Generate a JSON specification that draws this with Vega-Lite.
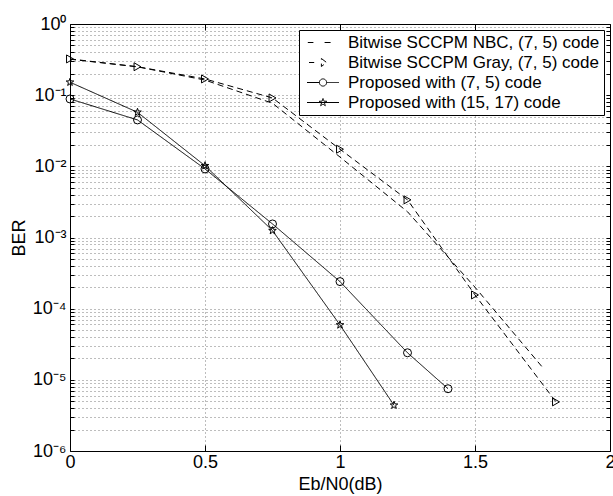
{
  "$schema": "https://vega.github.io/schema/vega-lite/v6.json",
  "width": 540,
  "height": 427,
  "autosize": "none",
  "padding": {"left": 70, "top": 24, "right": 3, "bottom": 45},
  "background": "white",
  "config": {
    "font": "Liberation Sans",
    "view": {"stroke": null},
    "axis": {
      "domainColor": "black",
      "tickColor": "black",
      "labelColor": "black",
      "titleColor": "black",
      "labelFontSize": 18,
      "titleFontSize": 18,
      "titleFontWeight": "normal",
      "gridColor": "#7a7a7a",
      "gridDash": [1, 3],
      "gridWidth": 1
    }
  },
  "data": {
    "values": [
      {"series": "Bitwise SCCPM NBC, (7, 5) code", "x": 0, "y": 0.32},
      {"series": "Bitwise SCCPM NBC, (7, 5) code", "x": 0.25, "y": 0.25},
      {"series": "Bitwise SCCPM NBC, (7, 5) code", "x": 0.5, "y": 0.163},
      {"series": "Bitwise SCCPM NBC, (7, 5) code", "x": 0.75, "y": 0.077},
      {"series": "Bitwise SCCPM NBC, (7, 5) code", "x": 1, "y": 0.0135},
      {"series": "Bitwise SCCPM NBC, (7, 5) code", "x": 1.25, "y": 0.0023},
      {"series": "Bitwise SCCPM NBC, (7, 5) code", "x": 1.5, "y": 0.0002},
      {"series": "Bitwise SCCPM NBC, (7, 5) code", "x": 1.75, "y": 0.000015},
      {"series": "Bitwise SCCPM Gray, (7, 5) code", "x": 0, "y": 0.323},
      {"series": "Bitwise SCCPM Gray, (7, 5) code", "x": 0.25, "y": 0.251},
      {"series": "Bitwise SCCPM Gray, (7, 5) code", "x": 0.5, "y": 0.169},
      {"series": "Bitwise SCCPM Gray, (7, 5) code", "x": 0.75, "y": 0.0914},
      {"series": "Bitwise SCCPM Gray, (7, 5) code", "x": 1, "y": 0.0174},
      {"series": "Bitwise SCCPM Gray, (7, 5) code", "x": 1.25, "y": 0.00338},
      {"series": "Bitwise SCCPM Gray, (7, 5) code", "x": 1.5, "y": 0.000156},
      {"series": "Bitwise SCCPM Gray, (7, 5) code", "x": 1.8, "y": 0.0000049},
      {"series": "Proposed with (7, 5) code", "x": 0, "y": 0.0885},
      {"series": "Proposed with (7, 5) code", "x": 0.25, "y": 0.0449},
      {"series": "Proposed with (7, 5) code", "x": 0.5, "y": 0.0092},
      {"series": "Proposed with (7, 5) code", "x": 0.75, "y": 0.00155},
      {"series": "Proposed with (7, 5) code", "x": 1, "y": 0.00024},
      {"series": "Proposed with (7, 5) code", "x": 1.25, "y": 0.000024},
      {"series": "Proposed with (7, 5) code", "x": 1.4, "y": 0.0000075},
      {"series": "Proposed with (15, 17) code", "x": 0, "y": 0.152},
      {"series": "Proposed with (15, 17) code", "x": 0.25, "y": 0.0575},
      {"series": "Proposed with (15, 17) code", "x": 0.5, "y": 0.0102},
      {"series": "Proposed with (15, 17) code", "x": 0.75, "y": 0.00125},
      {"series": "Proposed with (15, 17) code", "x": 1, "y": 0.000059},
      {"series": "Proposed with (15, 17) code", "x": 1.2, "y": 0.0000044}
    ]
  },
  "layer": [
    {
      "mark": {"type": "line", "strokeWidth": 1, "color": "black"},
      "encoding": {
        "x": {
          "field": "x", "type": "quantitative",
          "scale": {"domain": [0, 2], "nice": false, "zero": false},
          "axis": {
            "orient": "bottom",
            "values": [0, 0.5, 1, 1.5, 2],
            "format": "~g",
            "title": "Eb/N0(dB)",
            "grid": true,
            "gridOpacity": {"condition": {"test": "datum.value <= 0 || datum.value >= 2", "value": 0}, "value": 1},
            "tickSize": -6,
            "labelPadding": 8,
            "titlePadding": 4,
            "labelFlush": false,
            "labelOverlap": false
          }
        },
        "y": {
          "field": "y", "type": "quantitative",
          "scale": {"type": "log", "domain": [0.000001, 1], "nice": false},
          "axis": {
            "orient": "left",
            "values": [0.000001,0.000002,0.000003,0.000004,0.000005,0.000006,0.000007,0.000008,0.000009,
                       0.00001,0.00002,0.00003,0.00004,0.00005,0.00006,0.00007,0.00008,0.00009,
                       0.0001,0.0002,0.0003,0.0004,0.0005,0.0006,0.0007,0.0008,0.0009,
                       0.001,0.002,0.003,0.004,0.005,0.006,0.007,0.008,0.009,
                       0.01,0.02,0.03,0.04,0.05,0.06,0.07,0.08,0.09,
                       0.1,0.2,0.3,0.4,0.5,0.6,0.7,0.8,0.9,1],
            "labelExpr": "abs(log(datum.value)/LN10 - round(log(datum.value)/LN10)) < 0.001 ? '10' + ['⁰','⁻¹','⁻²','⁻³','⁻⁴','⁻⁵','⁻⁶'][round(-log(datum.value)/LN10)] : ''",
            "title": "BER",
            "grid": true,
            "gridOpacity": {"condition": {"test": "datum.value <= 0.0000011 || datum.value >= 0.99", "value": 0}, "value": 1},
            "tickSize": -4,
            "labelPadding": 8,
            "titlePadding": 4,
            "labelOverlap": false
          }
        },
        "strokeDash": {
          "field": "series", "type": "nominal",
          "scale": {
            "domain": ["Bitwise SCCPM NBC, (7, 5) code", "Bitwise SCCPM Gray, (7, 5) code", "Proposed with (7, 5) code", "Proposed with (15, 17) code"],
            "range": [[6, 4], [6, 4], [1, 0], [1, 0]]
          },
          "legend": {
            "title": null,
            "orient": "top-right",
            "offset": 6,
            "padding": 4,
            "strokeColor": "black",
            "fillColor": "white",
            "cornerRadius": 0,
            "labelFontSize": 17,
            "labelColor": "black",
            "labelLimit": 400,
            "symbolSize": 256,
            "rowPadding": 2,
            "labelOffset": 16.5,
            "symbolOffset": 11.5,
            "symbolStrokeWidth": 1,
            "symbolStrokeColor": "black",
            "encode": {
              "symbols": {
                "update": {
                  "shape": {"signal": "datum.value === 'Bitwise SCCPM NBC, (7, 5) code' ? 'M-1.9,0H-1.2M0.2,0H0.95' : datum.value === 'Bitwise SCCPM Gray, (7, 5) code' ? 'M-1.75,0H-1.1M-0.2,-0.5L0.45,0L-0.2,0.5Z' : datum.value === 'Proposed with (15, 17) code' ? 'M-2,0H2M0,-0.5L0.118,-0.162L0.476,-0.155L0.19,0.062L0.294,0.405L0,0.2L-0.294,0.405L-0.19,0.062L-0.476,-0.155L-0.118,-0.162Z' : 'M-2,0H-0.45M0.45,0H2M0.45,0A0.45,0.45,0,1,1,-0.45,0A0.45,0.45,0,1,1,0.45,0'"},
                  "strokeDash": {"value": [1, 0]},
                  "fill": {"value": "transparent"},
                  "stroke": {"value": "black"}
                }
              }
            }
          }
        }
      }
    },
    {
      "transform": [{"filter": "datum.series !== 'Bitwise SCCPM NBC, (7, 5) code'"}],
      "mark": {"type": "point", "filled": false, "strokeWidth": 1, "color": "black", "opacity": 1, "size": 64},
      "encoding": {
        "x": {
          "field": "x", "type": "quantitative",
          "axis": {
            "orient": "top",
            "values": [0, 0.5, 1, 1.5, 2],
            "labels": false,
            "title": null,
            "grid": false,
            "tickSize": -6
          }
        },
        "y": {
          "field": "y", "type": "quantitative",
          "axis": {
            "orient": "right",
            "values": [0.000001,0.000002,0.000003,0.000004,0.000005,0.000006,0.000007,0.000008,0.000009,
                       0.00001,0.00002,0.00003,0.00004,0.00005,0.00006,0.00007,0.00008,0.00009,
                       0.0001,0.0002,0.0003,0.0004,0.0005,0.0006,0.0007,0.0008,0.0009,
                       0.001,0.002,0.003,0.004,0.005,0.006,0.007,0.008,0.009,
                       0.01,0.02,0.03,0.04,0.05,0.06,0.07,0.08,0.09,
                       0.1,0.2,0.3,0.4,0.5,0.6,0.7,0.8,0.9,1],
            "labels": false,
            "title": null,
            "grid": false,
            "tickSize": -4
          }
        },
        "shape": {
          "field": "series", "type": "nominal",
          "scale": {
            "domain": ["Bitwise SCCPM Gray, (7, 5) code", "Proposed with (7, 5) code", "Proposed with (15, 17) code"],
            "range": ["triangle-right", "circle", "M0,-1L0.235,-0.324L0.951,-0.309L0.38,0.124L0.588,0.809L0,0.4L-0.588,0.809L-0.38,0.124L-0.951,-0.309L-0.235,-0.324Z"]
          },
          "legend": null
        }
      }
    }
  ],
  "resolve": {"axis": {"x": "independent", "y": "independent"}}
}
